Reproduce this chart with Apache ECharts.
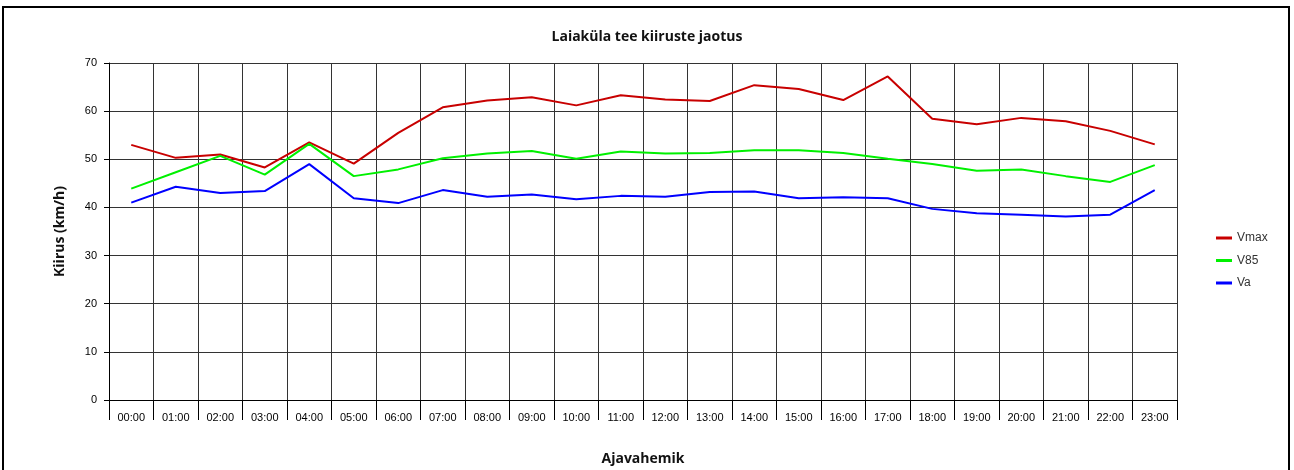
<!DOCTYPE html>
<html>
<head>
<meta charset="utf-8">
<script src="https://cdn.jsdelivr.net/npm/echarts@6/dist/echarts.min.js"></script>
<style>
  html, body { margin: 0; padding: 0; background: #fff; }
  #chart { width: 1294px; height: 470px; }
</style>
</head>
<body>
<div id="chart"></div>
<script>
// tunnid
var hours = ['00:00','01:00','02:00','03:00','04:00','05:00','06:00','07:00','08:00','09:00','10:00','11:00',
             '12:00','13:00','14:00','15:00','16:00','17:00','18:00','19:00','20:00','21:00','22:00','23:00'];

// kiirused (km/h)
var vmax = [53.0, 50.3, 51.0, 48.3, 53.5, 49.1, 55.5, 60.8, 62.2, 62.9, 61.2, 63.3,
            62.4, 62.1, 65.4, 64.6, 62.3, 67.2, 58.4, 57.3, 58.6, 57.9, 55.9, 53.1];
var v85 = [43.9, 47.3, 50.7, 46.8, 53.2, 46.5, 47.9, 50.2, 51.2, 51.7, 50.1, 51.6,
           51.2, 51.3, 51.9, 51.9, 51.3, 50.1, 49.0, 47.6, 47.9, 46.5, 45.3, 48.8];
var va = [41.0, 44.3, 43.0, 43.4, 49.0, 41.9, 40.9, 43.6, 42.2, 42.7, 41.7, 42.4,
          42.2, 43.2, 43.3, 41.9, 42.1, 41.9, 39.7, 38.8, 38.5, 38.1, 38.5, 43.6];

var yTicks = [0, 70, 10]; // min, max, samm

var chart = echarts.init(document.getElementById('chart'));

var option = {
  animation: false,
  backgroundColor: '#fff',
  title: {
    text: 'Laiaküla tee kiiruste jaotus',
    left: 'center',
    top: 25,
    textStyle: { fontFamily: 'Open Sans', fontSize: 14, fontWeight: 'bold', color: '#111' }
  },
  graphic: [{
    type: 'rect',
    shape: { x: 3, y: 7, width: 1286, height: 470 },
    style: { fill: 'none', stroke: '#000', lineWidth: 2 },
    silent: true
  }],
  legend: {
    orient: 'vertical',
    left: 1211,
    top: 227,
    icon: 'rect',
    itemWidth: 16,
    itemHeight: 3,
    itemGap: 10.5,
    textStyle: { fontFamily: 'Liberation Sans', fontSize: 12, color: '#333' },
    data: ['Vmax', 'V85', 'Va']
  },
  grid: { left: 109, right: 117, top: 63, bottom: 70, outerBoundsMode: 'none' },
  xAxis: {
    type: 'category',
    data: hours,
    boundaryGap: true,
    name: 'Ajavahemik',
    nameLocation: 'middle',
    nameGap: 52,
    nameTextStyle: { fontFamily: 'Open Sans', fontSize: 14, fontWeight: 'bold', color: '#111' },
    axisLine: { lineStyle: { color: '#000', width: 1 } },
    axisTick: { show: true, interval: 0, length: 20, lineStyle: { color: '#000' } },
    axisLabel: { interval: 0, margin: 12, fontFamily: 'Liberation Sans', fontSize: 11, color: '#000' },
    splitLine: { show: true, interval: 0, lineStyle: { color: '#333', width: 1 } }
  },
  yAxis: {
    type: 'value',
    min: yTicks[0],
    max: yTicks[1],
    interval: yTicks[2],
    name: 'Kiirus (km/h)',
    nameLocation: 'middle',
    nameGap: 42,
    nameTextStyle: { fontFamily: 'Open Sans', fontSize: 14, fontWeight: 'bold', color: '#111' },
    axisLine: { show: true, lineStyle: { color: '#000' } },
    axisTick: { show: true, length: 5, lineStyle: { color: '#000' } },
    axisLabel: { margin: 12, fontFamily: 'Liberation Sans', fontSize: 11, color: '#000' },
    splitLine: { show: true, lineStyle: { color: '#333', width: 1 } }
  },
  series: [
    { name: 'Vmax', type: 'line', data: vmax, symbol: 'none', color: '#c80000', lineStyle: { width: 2 } },
    { name: 'V85', type: 'line', data: v85, symbol: 'none', color: '#00f000', lineStyle: { width: 2 } },
    { name: 'Va', type: 'line', data: va, symbol: 'none', color: '#0000ff', lineStyle: { width: 2 } }
  ]
};

chart.setOption(option);
</script>
</body>
</html>
